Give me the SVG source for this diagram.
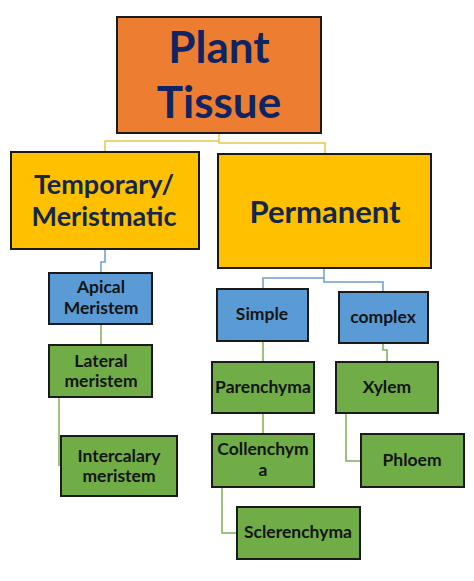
<svg xmlns="http://www.w3.org/2000/svg" width="474" height="581" viewBox="0 0 474 581">
<style>
.box{stroke:#1a1a1a;stroke-width:2}
.or{fill:#ED7D31}.ye{fill:#FFC000}.bl{fill:#5B9BD5}.gr{fill:#70AD47}
text{font-family:Lato,"Open Sans",sans-serif;font-weight:bold;text-anchor:middle}
.t1{font-size:44px;fill:#0f2462}
.t2{font-size:27px;fill:#14264a}
.t3{font-size:31px;fill:#14264a}
.t4{font-size:17.5px;fill:#141414}
.c{fill:none;stroke-width:1.5}
.cy{stroke:#E6C84A}.cb{stroke:#6F9CC9}.cg{stroke:#7DAF55}
</style>
<rect width="474" height="581" fill="#fff"/>
<g id="connectors">
<path class="c cy" d="M219,133 V141 H105 V152 M219,141 V143 H325 V154"/>
<path class="c cb" d="M105,249 V262 H101 V273"/>
<path class="c cg" d="M101,324 V345"/>
<path class="c cg" d="M59,397 V466"/>
<path class="c cb" d="M324,268 V278 H263 V289 M324,278 V282 H383 V292"/>
<path class="c cg" d="M263,341 V362"/>
<path class="c cg" d="M383,343 V350 H387 V362"/>
<path class="c cg" d="M263,413 V434"/>
<path class="c cg" d="M222,487 V533 H237"/>
<path class="c cg" d="M346,413 V461 H361"/>
</g>
<g id="plant-tissue"><rect class="box or" x="117" y="17" width="204" height="116"/><text class="t1" x="219" y="63">Plant</text><text class="t1" x="219" y="118">Tissue</text></g>
<g id="temporary"><rect class="box ye" x="11" y="152" width="188" height="97"/><text class="t2" x="104" y="194">Temporary/</text><text class="t2" x="104" y="226">Meristmatic</text></g>
<g id="permanent"><rect class="box ye" x="218" y="154" width="213" height="114"/><text class="t3" x="325" y="223">Permanent</text></g>
<g id="apical"><rect class="box bl" x="49" y="273" width="103" height="51"/><text class="t4" x="101" y="293">Apical</text><text class="t4" x="101" y="314">Meristem</text></g>
<g id="lateral"><rect class="box gr" x="49" y="345" width="103" height="52"/><text class="t4" x="101" y="367">Lateral</text><text class="t4" x="101" y="387">meristem</text></g>
<g id="intercalary"><rect class="box gr" x="61" y="436" width="116" height="60"/><text class="t4" x="119" y="462">Intercalary</text><text class="t4" x="119" y="482">meristem</text></g>
<g id="simple"><rect class="box bl" x="217" y="289" width="91" height="52"/><text class="t4" x="262" y="320">Simple</text></g>
<g id="complex"><rect class="box bl" x="339" y="292" width="89" height="51"/><text class="t4" x="383" y="323">complex</text></g>
<g id="parenchyma"><rect class="box gr" x="212" y="362" width="102" height="51"/><text class="t4" x="263" y="393">Parenchyma</text></g>
<g id="xylem"><rect class="box gr" x="336" y="362" width="102" height="51"/><text class="t4" x="387" y="393">Xylem</text></g>
<g id="collenchyma"><rect class="box gr" x="212" y="434" width="102" height="53"/><text class="t4" x="263" y="455">Collenchym</text><text class="t4" x="263" y="476">a</text></g>
<g id="phloem"><rect class="box gr" x="361" y="434" width="103" height="53"/><text class="t4" x="412" y="466">Phloem</text></g>
<g id="sclerenchyma"><rect class="box gr" x="237" y="507" width="123" height="52"/><text class="t4" x="298" y="538">Sclerenchyma</text></g>
</svg>
